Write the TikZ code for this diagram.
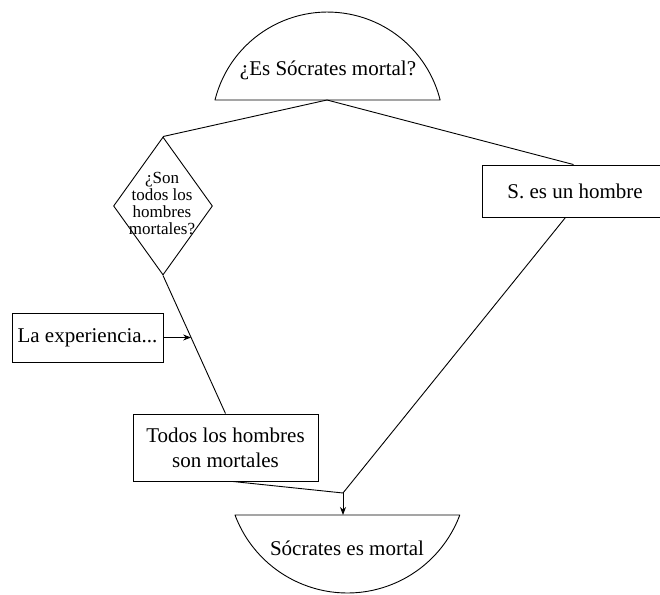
\documentclass[tikz,border=0pt]{standalone}
\usepackage{fontspec}
\setmainfont{Liberation Serif}
\usetikzlibrary{shapes.geometric,arrows.meta,calc}
\begin{document}
\begin{tikzpicture}[x=1pt,y=1pt,
  ln/.style={line width=0.9pt,line join=round},
  boxnode/.style={draw,line width=0.9pt,inner sep=0pt,align=center,font=\fontsize{21}{25}\selectfont},
  txt/.style={inner sep=0pt,align=center,font=\fontsize{21}{25}\selectfont},
  tip/.style={-{Stealth[length=8pt,width=6pt]}}]
\useasboundingbox (0,0) rectangle (660,594);
% top dome
\draw[ln] (215,494) arc[start angle=166, end angle=14, radius=116] -- cycle;
\node[txt] (q) at (328,524) {¿Es Sócrates mortal?};
\coordinate (qb) at (327,494);
% bottom bowl
\draw[ln] (235,79) arc[start angle=200.5, end angle=339.5, radius=120] -- cycle;
\node[txt] (c) at (347,46) {Sócrates es mortal};
\coordinate (ct) at (343,79);
% diamond
\node[draw,ln,diamond,minimum width=99pt,minimum height=138pt,inner sep=0pt] (dia) at (163,388) {};
\node[inner sep=0pt,align=center,font=\fontsize{17}{17}\selectfont] (diat) at (162,391) {¿Son\\todos los\\hombres\\mortales?};
% boxes
\node[boxnode,minimum width=179pt,minimum height=52pt] (s) at (571.5,403) {};
\node[txt] (st) at (575,403) {S. es un hombre};
\node[boxnode,minimum width=151pt,minimum height=49pt] (la) at (87.5,256.5) {La experiencia...};
\node[boxnode,minimum width=185pt,minimum height=67pt] (todos) at (225.5,146.5) {Todos los hombres\\son mortales};
\coordinate (j) at (343,101);
% connectors
\draw[ln] (dia.north) -- (qb) -- ([xshift=2pt]s.north);
\draw[ln] (dia.south) -- (todos.north);
\coordinate (hit) at ($(dia.south)!0.45!(todos.north)$);
\draw[ln,tip] (la.east) -- (la.east -| hit);
\draw[ln] ([xshift=7pt]todos.south) -- (j) -- ([xshift=-6pt]s.south);
\draw[ln,tip] (j) -- (ct);
\end{tikzpicture}
\end{document}
